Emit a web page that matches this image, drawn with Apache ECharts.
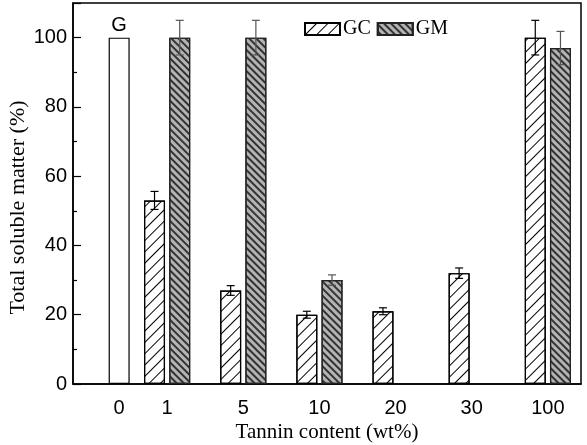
<!DOCTYPE html>
<html>
<head>
<meta charset="utf-8">
<script src="https://cdn.jsdelivr.net/npm/echarts@6/dist/echarts.min.js"></script>
<style>
html,body{margin:0;padding:0;background:#fff;}
#chart{width:587px;height:445px;}
</style>
</head>
<body>
<div id="chart"></div>
<script>
// ---- data ----
const categories = ['0', '1', '5', '10', '20', '30', '100'];   // tannin content (wt%)
const groupPos   = [0.37, 1, 2, 3, 4, 5, 6];                    // x position of each group
const gValue     = [100, null, null, null, null, null, null];   // G
const gcValues   = [null, 53, 27, 20, 21, 32, 100];             // GC
const gcErrors   = [null, 2.6, 1.4, 1.0, 1.0, 1.5, 5.0];
const gmValues   = [null, 100, 100, 30, null, null, 97];        // GM
const gmErrors   = [null, 5.0, 5.0, 1.5, null, null, 4.8];
const yTicks     = [0, 20, 40, 60, 80, 100];

function pairs(vals, errs) {
  const out = [];
  vals.forEach((v, i) => { if (v != null) out.push(errs ? [groupPos[i], v, errs[i]] : [groupPos[i], v]); });
  return out;
}

const BAR_W = 21;
const GAP = 0.2;
const OFF = (BAR_W + BAR_W * GAP) / 2;

function errRender(offset, color) {
  return function (params, api) {
    const x = api.value(0), y = api.value(1), e = api.value(2);
    const hi = api.coord([x, y + e]);
    const lo = api.coord([x, y - e]);
    const cx = hi[0] + offset;
    const w = 4;
    const st = { stroke: color, lineWidth: 1.2 };
    return {
      type: 'group',
      children: [
        { type: 'line', shape: { x1: cx, y1: hi[1], x2: cx, y2: lo[1] }, style: st },
        { type: 'line', shape: { x1: cx - w, y1: hi[1], x2: cx + w, y2: hi[1] }, style: st },
        { type: 'line', shape: { x1: cx - w, y1: lo[1], x2: cx + w, y2: lo[1] }, style: st }
      ]
    };
  };
}

const xMin = -0.236, xMax = 6.435;
const sans = 'Liberation Sans';
const serif = 'Liberation Serif';

const chart = echarts.init(document.getElementById('chart'), null, { renderer: 'canvas' });
chart.setOption({
  animation: false,
  backgroundColor: '#fff',
  grid: {
    left: 73, right: 6, top: 3, bottom: 61,
    containLabel: false, outerBoundsMode: 'none',
    show: true, borderColor: '#000', borderWidth: 1.5, backgroundColor: 'transparent'
  },
  legend: {
    data: ['GC', 'GM'],
    left: 299, top: 14,
    icon: 'rect', itemWidth: 35, itemHeight: 12, itemGap: 6,
    textStyle: { fontFamily: serif, fontSize: 20, color: '#000', padding: [0, 0, 0, -2] }
  },
  xAxis: [
    {
      type: 'value', min: xMin, max: xMax,
      name: 'Tannin content (wt%)', nameLocation: 'middle', nameGap: 38, nameMoveOverlap: false,
      nameTextStyle: { fontFamily: serif, fontSize: 21, color: '#000' },
      axisLine: { show: true, onZero: false, lineStyle: { color: '#000', width: 1.5 } },
      axisTick: { show: false },
      splitLine: { show: false },
      axisLabel: {
        customValues: groupPos,
        formatter: function (v) { const i = groupPos.indexOf(v); return i >= 0 ? categories[i] : ''; },
        fontFamily: sans, fontSize: 20, color: '#000', margin: 14
      }
    },
    { type: 'value', min: xMin, max: xMax, show: false }
  ],
  yAxis: {
    type: 'value', min: 0, max: 110, interval: 20,
    name: 'Total soluble matter (%)', nameLocation: 'middle', nameGap: 44, nameMoveOverlap: false,
    nameTextStyle: { fontFamily: serif, fontSize: 22, color: '#000', padding: [0, 28, 0, 0] },
    axisLine: { show: true, onZero: false, lineStyle: { color: '#000', width: 1.5 } },
    axisTick: { show: true, inside: true, length: 8, lineStyle: { color: '#000', width: 1.2 } },
    minorTick: { show: true, splitNumber: 2, length: 4, lineStyle: { color: '#000', width: 1.2 } },
    splitLine: { show: false },
    axisLabel: {
      formatter: function (v) { return yTicks.indexOf(v) >= 0 ? String(v) : ''; },
      fontFamily: sans, fontSize: 20, color: '#000', margin: 6
    }
  },
  series: [
    {
      name: 'G', type: 'bar', xAxisIndex: 1, barWidth: BAR_W,
      data: pairs(gValue),
      itemStyle: { color: '#fff', borderColor: '#000', borderWidth: 1.2 },
      label: { show: true, position: 'top', formatter: 'G', distance: 2, fontFamily: sans, fontSize: 20, color: '#000' },
      z: 2
    },
    {
      name: 'GC', type: 'bar', xAxisIndex: 0, barWidth: BAR_W,
      data: pairs(gcValues),
      itemStyle: {
        color: '#fff', borderColor: '#000', borderWidth: 1.2,
        decal: { symbol: 'rect', symbolSize: 1, dashArrayX: [1, 0], dashArrayY: [1, 6.5], rotation: -Math.PI / 4, color: '#000' }
      },
      z: 2
    },
    {
      name: 'GM', type: 'bar', xAxisIndex: 0, barWidth: BAR_W, barGap: (GAP * 100) + '%',
      data: pairs(gmValues),
      itemStyle: {
        color: '#b4b4b4', borderColor: '#222', borderWidth: 1.2,
        decal: { symbol: 'rect', symbolSize: 1, dashArrayX: [1, 0], dashArrayY: [1.4, 2.2], rotation: Math.PI / 4, color: '#333' }
      },
      z: 2
    },
    {
      name: 'GC err', type: 'custom', xAxisIndex: 0,
      data: pairs(gcValues, gcErrors),
      renderItem: errRender(-OFF, '#000'),
      encode: { x: 0, y: [1] }, z: 5, silent: true
    },
    {
      name: 'GM err', type: 'custom', xAxisIndex: 0,
      data: pairs(gmValues, gmErrors),
      renderItem: errRender(OFF, '#555'),
      encode: { x: 0, y: [1] }, z: 5, silent: true
    }
  ]
});
</script>
</body>
</html>
